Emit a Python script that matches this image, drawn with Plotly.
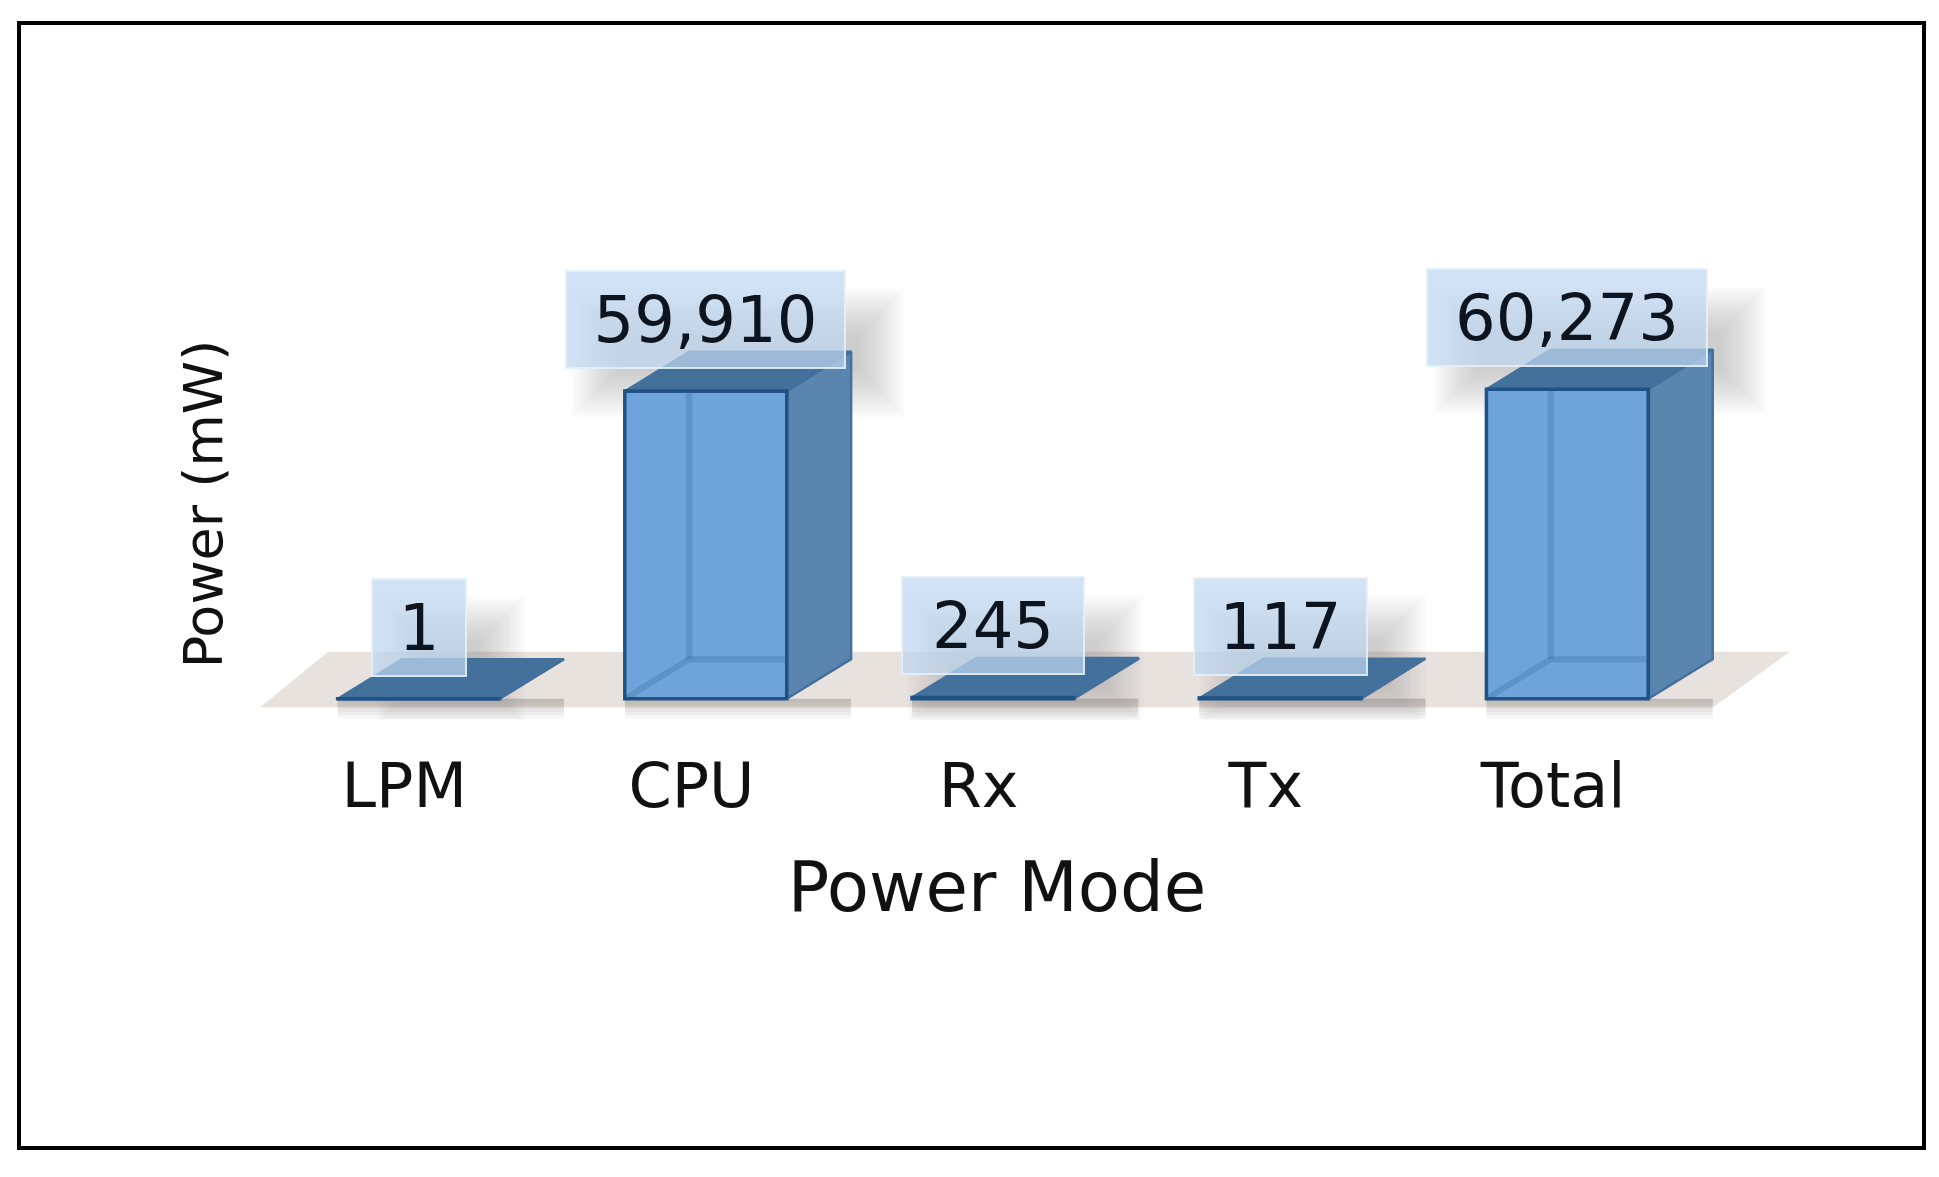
import plotly.graph_objects as go

# datos
modes = ["LPM", "CPU", "Rx", "Tx", "Total"]
power = [1, 59910, 245, 117, 60273]
label_box_px = [92, 277, 180, 171, 278]

FONT = "DejaVu Sans"
BAR_W = 0.564
DEPTH_X = 0.224     # profundidad del efecto 3D, unidades de eje x
DEPTH_Y = 7705      # profundidad del efecto 3D, unidades de eje y
PX_X = 287.2        # pixeles por categoria
PX_Y = 0.005136     # pixeles por mW
PAGE = 8            # margen del body en la pagina

# area de trazado en pixeles (coordenadas de la imagen)
L, R, T, B = 204, 1790, 288, 720
W, H = 1939, 1177

FRONT = "#6ea4d9"
SIDE = "#5a85ae"
TOP = "#44709c"
EDGE = "#1f5285"

fig = go.Figure()

# suelo del grafico
floor = "M -0.552 -1686 L 4.507 -1686 L 4.775 9150 L -0.315 9150 Z"
shapes = [dict(type="path", path=floor, xref="x", yref="y", layer="below",
               fillcolor="#e8e2de", line_width=0)]

# sombras difusas de las etiquetas y de las barras
for i, v in enumerate(power):
    half = label_box_px[i] / 2 / PX_X
    top = v + 13960 + 47.5 / PX_Y
    bottom = v + 13960 - 47.5 / PX_Y
    for k in range(14):
        g = (13 - k) * 3.5
        shapes.append(dict(
            type="rect", xref="x", yref="y", layer="below",
            x0=i - half + (50 - g) / PX_X, x1=i + half + (15 + g) / PX_X,
            y0=bottom - (5 + g) / PX_Y, y1=top - (62 - g) / PX_Y,
            fillcolor="rgba(120,120,120,0.03)", line_width=0))
    for k in range(6):
        shapes.append(dict(
            type="rect", xref="x", yref="y", layer="below",
            x0=i - BAR_W / 2, x1=i + BAR_W / 2 + DEPTH_X,
            y0=-(600 + k * 650), y1=0,
            fillcolor="rgba(110,110,110,0.06)", line_width=0))

# marco exterior
shapes.append(dict(type="rect", xref="paper", yref="paper",
                   x0=(19 - L) / (R - L), x1=(1924 - L) / (R - L),
                   y0=(B - 1148) / (B - T), y1=(B - 23) / (B - T),
                   line=dict(color="#000000", width=4), layer="above"))

# cara frontal de cada barra
fig.add_trace(go.Bar(x=list(range(len(modes))), y=power, width=BAR_W,
                     marker=dict(color=FRONT, line=dict(color=EDGE, width=3.5)),
                     hoverinfo="skip"))

# caras lateral, superior y aristas traseras, calculadas desde los valores
for i, v in enumerate(power):
    x0, x1 = i - BAR_W / 2, i + BAR_W / 2
    if v > 1000:
        fig.add_trace(go.Scatter(
            x=[x0 + DEPTH_X, x0 + DEPTH_X, None, x0, x0 + DEPTH_X, x1 + DEPTH_X],
            y=[DEPTH_Y, v + DEPTH_Y, None, 0, DEPTH_Y, DEPTH_Y],
            mode="lines", line=dict(color="rgba(31,82,133,0.2)", width=6),
            hoverinfo="skip"))
    fig.add_trace(go.Scatter(
        x=[x1, x1 + DEPTH_X, x1 + DEPTH_X, x1, x1],
        y=[0, DEPTH_Y, v + DEPTH_Y, v, 0],
        mode="lines", fill="toself", fillcolor=SIDE,
        line=dict(color=TOP, width=2.5), hoverinfo="skip"))
    fig.add_trace(go.Scatter(
        x=[x0, x1, x1 + DEPTH_X, x0 + DEPTH_X, x0],
        y=[v, v, v + DEPTH_Y, v + DEPTH_Y, v],
        mode="lines", fill="toself", fillcolor=TOP,
        line=dict(color=TOP, width=2), hoverinfo="skip"))
    fig.add_trace(go.Scatter(
        x=[x0, x1, x1], y=[v, v, 0], mode="lines",
        line=dict(color=EDGE, width=3.5), hoverinfo="skip"))

# etiquetas de valor
for i, v in enumerate(power):
    fig.add_annotation(x=i, y=v + 13960, xref="x", yref="y", text=f"{v:,}",
                       showarrow=False, width=label_box_px[i], height=95,
                       borderpad=0, valign="middle",
                       bgcolor="rgba(190,215,240,0.72)",
                       bordercolor="rgba(228,240,250,0.9)", borderwidth=2,
                       font=dict(family=FONT, size=64, color="#0c1420"))

fig.update_layout(
    width=W - 2 * PAGE, height=H - 2 * PAGE, showlegend=False, autosize=False,
    paper_bgcolor="white", plot_bgcolor="white",
    margin=dict(l=L - PAGE, r=W - PAGE - R, t=T - PAGE, b=H - PAGE - B),
    shapes=shapes,
    xaxis=dict(range=[(L - 418.6) / PX_X, (R - 418.6) / PX_X],
               tickvals=[i - 0.05 for i in range(len(modes))], ticktext=modes,
               showgrid=False, zeroline=False, showline=False,
               ticks="outside", ticklen=12, tickcolor="rgba(0,0,0,0)",
               tickfont=dict(family=FONT, size=62, color="#111111"),
               title=dict(text="Power Mode", standoff=41,
                          font=dict(family=FONT, size=69, color="#111111"))),
    yaxis=dict(range=[-(B - 698.7) / PX_Y, (698.7 - T) / PX_Y],
               anchor="free", position=(245 - L) / (R - L),
               showgrid=False, zeroline=False, showline=False,
               showticklabels=False, ticks="",
               title=dict(text="Power (mW)", standoff=4,
                          font=dict(family=FONT, size=54, color="#111111"))),
)

fig.write_html("out.html")
